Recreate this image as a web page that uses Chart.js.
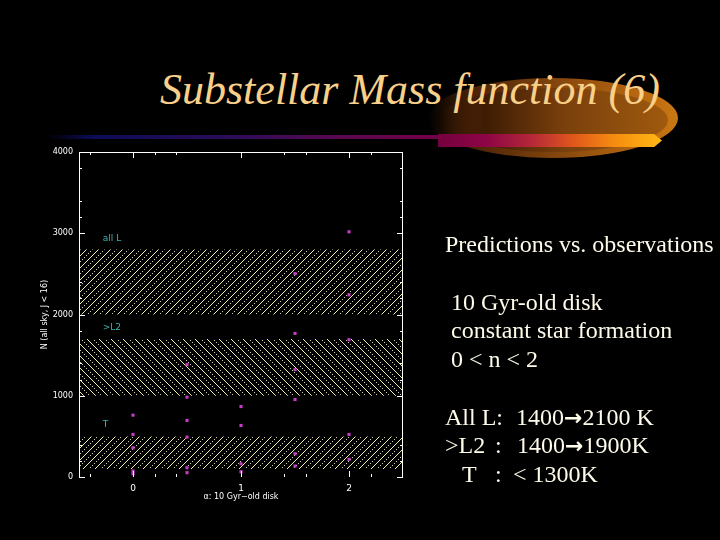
<!DOCTYPE html>
<html>
<head>
<meta charset="utf-8">
<script src="https://cdn.jsdelivr.net/npm/chart.js@4.4.0/dist/chart.umd.min.js"></script>
<style>
html,body{margin:0;padding:0;background:#000;width:720px;height:540px;overflow:hidden}
#wrap{position:relative;width:720px;height:540px;background:#000;overflow:hidden}
#c{position:absolute;left:0;top:0}
.glow{position:absolute;left:428px;top:78px;width:250px;height:80px;border-radius:50%;
 background:linear-gradient(to right,rgba(0,0,0,0) 0%,#4a2206 18%,#8a4a0e 55%,#b8680f 85%,#c87812 100%)}
.glow2{position:absolute;left:440px;top:88px;width:228px;height:64px;border-radius:50%;
 background:linear-gradient(to right,rgba(0,0,0,0) 0%,#3e1c04 20%,#7a400c 55%,#a05a0e 100%)}
.thin{position:absolute;left:46px;top:135px;width:394px;height:4px;
 background:linear-gradient(to right,rgba(8,8,50,0) 0%,#0c0c58 12%,#2a0c58 45%,#5a0850 75%,#740048 100%)}
.bar{position:absolute;left:438px;top:134px;width:224px;height:13px;
 background:linear-gradient(to right,#74003e 0%,#8e0546 22%,#b52838 42%,#e0561c 60%,#f58a10 78%,#ffb814 100%);
 clip-path:polygon(0 0,96.5% 0,100% 50%,96.5% 100%,0 100%)}
.title{position:absolute;left:160px;top:68px;font-family:"Liberation Serif",serif;font-style:italic;font-size:44px;line-height:44px;color:#f8d08a;white-space:nowrap}
.t{position:absolute;font-family:"Liberation Serif",serif;font-size:24px;line-height:24px;color:#fffbea;white-space:pre}
.ar{font-family:"DejaVu Sans",sans-serif;font-weight:bold;font-size:22px}
</style>
</head>
<body>
<div id="wrap">
  <div class="glow"></div>
  <div class="glow2"></div>
  <div class="thin"></div>
  <div class="bar"></div>
  <div class="title">Substellar Mass function (6)</div>
  <canvas id="c" width="720" height="540"></canvas>
  <div class="t" style="left:445px;top:232px">Predictions vs. observations</div>
  <div class="t" style="left:451px;top:290px">10 Gyr-old disk</div>
  <div class="t" style="left:451px;top:318px">constant star formation</div>
  <div class="t" style="left:451px;top:347px">0 &lt; n &lt; 2</div>
  <div class="t" style="left:445px;top:405px">All L:</div>
  <div class="t" style="left:516px;top:405px">1400<span class="ar">→</span>2100 K</div>
  <div class="t" style="left:445px;top:433px">&gt;L2</div>
  <div class="t" style="left:495px;top:433px">:</div>
  <div class="t" style="left:517px;top:433px">1400<span class="ar">→</span>1900K</div>
  <div class="t" style="left:462px;top:462px">T</div>
  <div class="t" style="left:495px;top:462px">:</div>
  <div class="t" style="left:513px;top:462px">&lt; 1300K</div>
</div>
<script>
// ---- data ----
const xTicksMajor = [0, 1, 2];
const xTicksMinor = [-0.4, 0.2, 0.4, 1.4, 1.6, 2.2];
const yTicksMajor = [0, 1000, 2000, 3000, 4000];
const yTicksMinor = [200, 400, 1200, 1400, 1800, 2200, 2400, 3200, 3400, 3800];
const nValues = [0, 0.5, 1, 1.5, 2];
const predAtN0  = [761, 524, 360, 74, 40];
const predAtN05 = [1383, 982, 696, 491, 114, 53];
const predAtN10 = [867, 634, 163, 65];
const predAtN15 = [2503, 1767, 1321, 953, 286, 135];
const predAtN20 = [3018, 2242, 1690, 524, 217];
const bandNames = ['all L', '>L2', 'T'];
const bandLow  = [2000, 1000, 100];
const bandHigh = [2800, 1700, 500];
const bandLabelY = [2930, 1840, 650];
const bandLabelX = -0.28;
const xTitle = 'α: 10 Gyr−old disk';
const yTitle = 'N (all sky, J < 16)';

// ---- styles ----
const hatchDir = ['/', '\\', '/'];
const canvas = document.getElementById('c');
const ctx0 = canvas.getContext('2d');
function makeHatch(dir){
  const s = 12, c = document.createElement('canvas');
  c.width = s; c.height = s;
  const g = c.getContext('2d');
  for (let i = 0; i < s; i++) {
    const j = dir === '/' ? (s - 1 - i) : i;
    g.fillStyle = '#f6f0a8'; g.fillRect(i, j, 1, 1);
    if (i % 2 === 0) {
      g.fillStyle = '#cfcdb8';
      g.fillRect(i, (j + 6) % s, 1, 1);
    }
  }
  return ctx0.createPattern(c, 'repeat');
}

const predSets = [predAtN0, predAtN05, predAtN10, predAtN15, predAtN20];
const points = [];
nValues.forEach((n, i) => predSets[i].forEach(v => points.push({x: n, y: v})));

const datasets = [{
  type: 'scatter', data: points, pointRadius: 2.2, pointHoverRadius: 2.2,
  backgroundColor: '#c63cc6', borderWidth: 0, pointStyle: 'rect'
}];
bandNames.forEach((name, i) => {
  datasets.push({
    type: 'line', label: name,
    data: [{x: -0.5, y: bandHigh[i]}, {x: 2.5, y: bandHigh[i]}],
    fill: {value: bandLow[i]}, backgroundColor: makeHatch(hatchDir[i]),
    borderWidth: 0, pointRadius: 0
  });
});

const framePlugin = {
  id: 'frame',
  afterDraw(chart) {
    const {ctx, chartArea: a, scales: {x, y}} = chart;
    ctx.save();
    ctx.strokeStyle = '#ffffff'; ctx.lineWidth = 1;
    ctx.beginPath();
    ctx.moveTo(a.left + 0.5, a.bottom); ctx.lineTo(a.left + 0.5, a.top + 0.5);
    ctx.lineTo(a.right - 0.5, a.top + 0.5); ctx.lineTo(a.right - 0.5, a.bottom);
    ctx.stroke();
    const tick = (vals, len) => {
      vals.forEach(v => {
        const px = Math.round(x.getPixelForValue(v)) + 0.5;
        ctx.beginPath();
        ctx.moveTo(px, a.top); ctx.lineTo(px, a.top + len);
        ctx.moveTo(px, a.bottom); ctx.lineTo(px, a.bottom - len);
        ctx.stroke();
      });
    };
    const tickY = (vals, len) => {
      vals.forEach(v => {
        const py = Math.round(y.getPixelForValue(v)) + 0.5;
        ctx.beginPath();
        ctx.moveTo(a.left, py); ctx.lineTo(a.left + len, py);
        ctx.moveTo(a.right, py); ctx.lineTo(a.right - len, py);
        ctx.stroke();
      });
    };
    tick(xTicksMajor, 6); tick(xTicksMinor, 3);
    tickY(yTicksMajor, 6); tickY(yTicksMinor, 3);
    // band labels
    ctx.fillStyle = '#3cb4b4';
    ctx.font = '9px "DejaVu Sans"';
    ctx.textBaseline = 'middle'; ctx.textAlign = 'left';
    bandNames.forEach((name, i) => {
      ctx.fillText(name, x.getPixelForValue(bandLabelX), y.getPixelForValue(bandLabelY[i]));
    });
    ctx.restore();
  }
};

new Chart(canvas, {
  data: {datasets},
  options: {
    responsive: false, animation: false, events: [],
    layout: {padding: {top: 152, right: 317, left: 0, bottom: 0}},
    plugins: {legend: {display: false}, tooltip: {enabled: false}},
    scales: {
      x: {
        type: 'linear', min: -0.5, max: 2.5,
        afterBuildTicks: s => { s.ticks = xTicksMajor.map(v => ({value: v})); },
        afterFit: s => { s.height = 63; },
        grid: {display: false, drawTicks: false}, border: {display: false},
        ticks: {color: '#ffffff', font: {family: 'DejaVu Sans', size: 9}, padding: 6, maxRotation: 0,
                callback: v => String(v)},
        title: {display: true, text: xTitle, color: '#ffffff',
                font: {family: 'DejaVu Sans', size: 8}, padding: {top: 0, bottom: 38}}
      },
      y: {
        type: 'linear', min: 0, max: 4000,
        afterBuildTicks: s => { s.ticks = yTicksMajor.map(v => ({value: v})); },
        afterFit: s => { s.width = 79; },
        grid: {display: false, drawTicks: false}, border: {display: false},
        ticks: {color: '#ffffff', font: {family: 'DejaVu Sans', size: 8}, padding: 6,
                callback: v => String(v)},
        title: {display: true, text: yTitle, color: '#ffffff',
                font: {family: 'DejaVu Sans', size: 8}, padding: {top: 40, bottom: 0}}
      }
    }
  },
  plugins: [framePlugin]
});
</script>
</body>
</html>
